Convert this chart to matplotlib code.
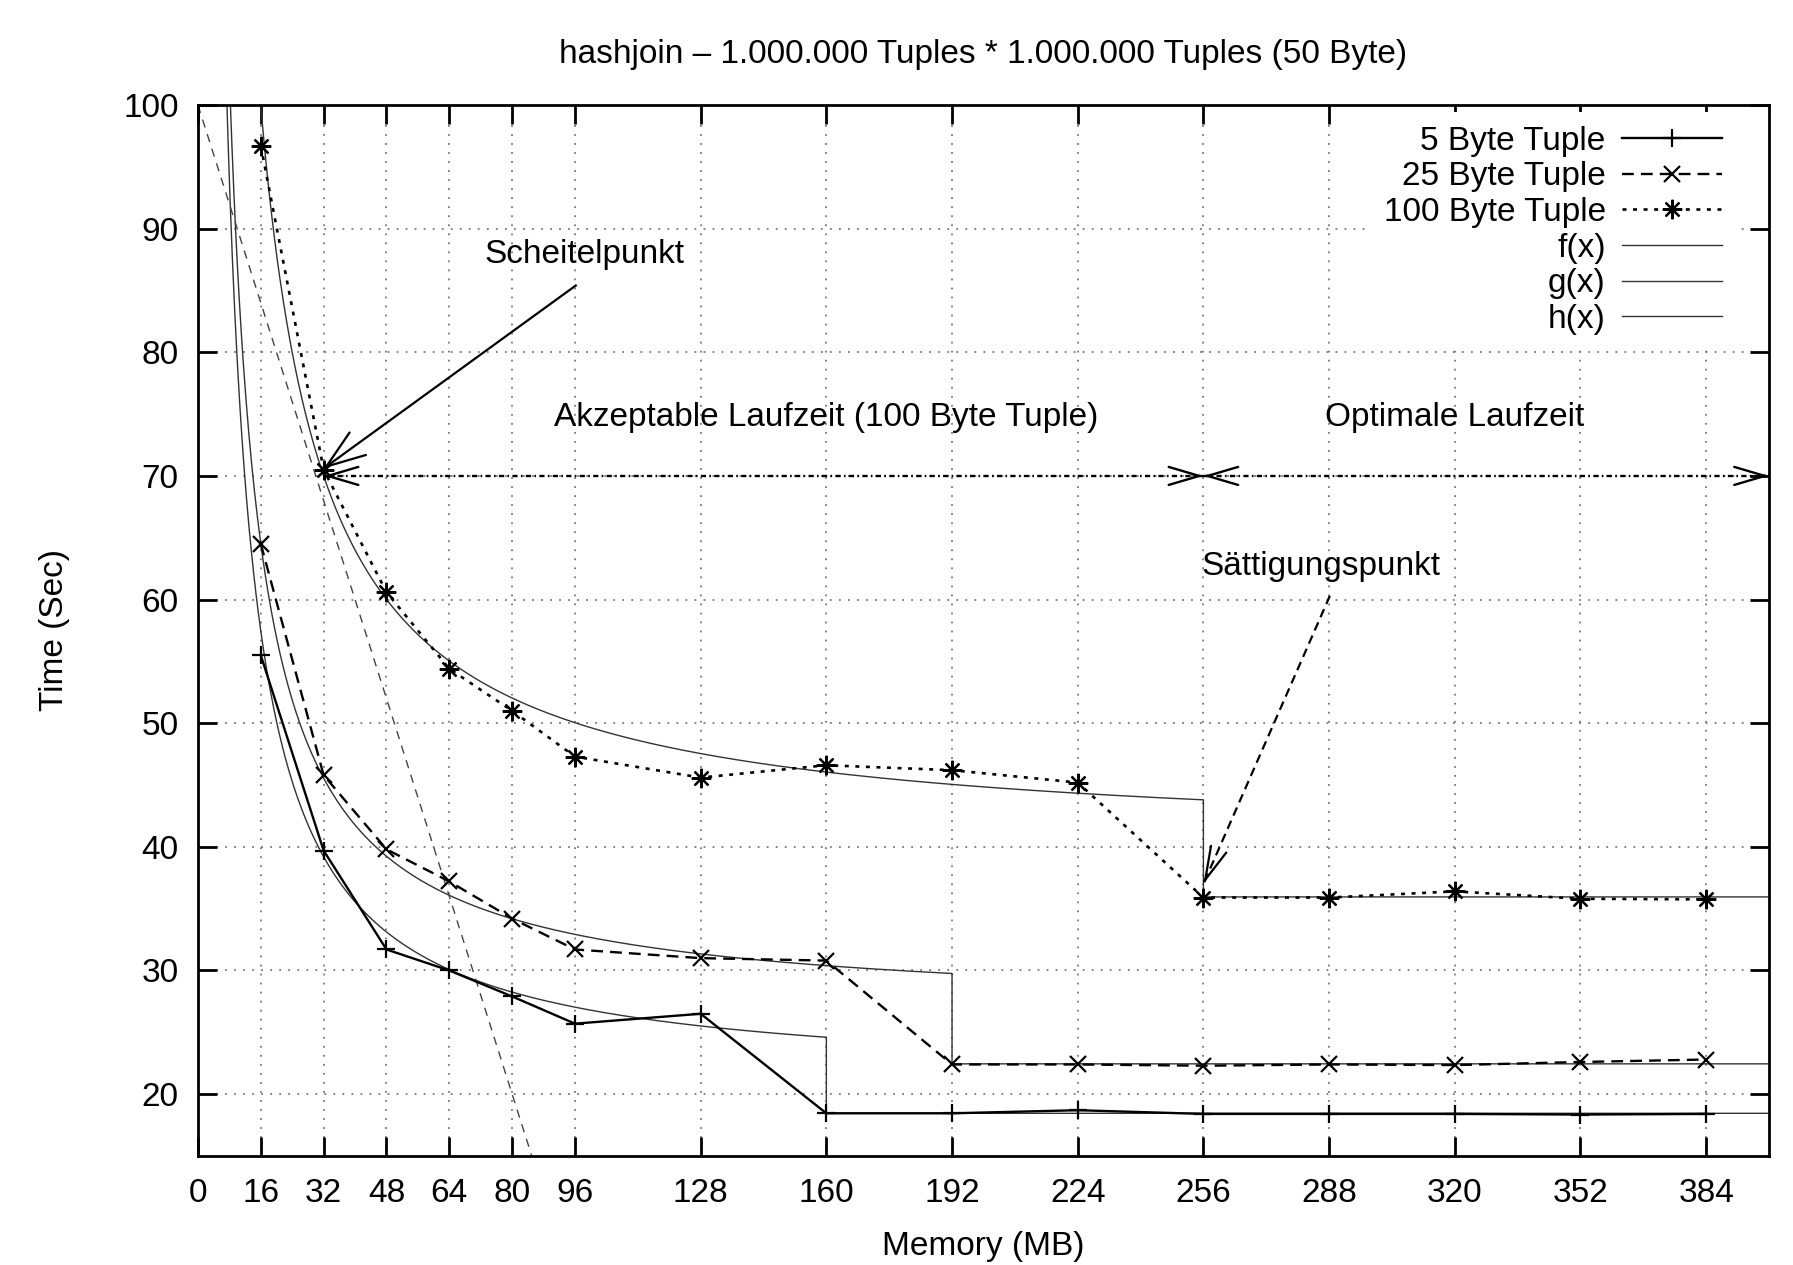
import numpy as np
import matplotlib.pyplot as plt

plt.rcParams['font.family'] = ['Liberation Sans', 'DejaVu Sans']

# measured runtimes (sec) per memory size (MB)
memory = [16, 32, 48, 64, 80, 96, 128, 160, 192, 224, 256, 288, 320, 352, 384]
time_5 = [55.5, 39.7, 31.7, 30.0, 27.9, 25.7, 26.5, 18.45, 18.45, 18.7, 18.4, 18.4, 18.4, 18.35, 18.4]
time_25 = [64.5, 45.8, 39.8, 37.2, 34.2, 31.7, 31.0, 30.8, 22.4, 22.4, 22.3, 22.4, 22.35, 22.6, 22.8]
time_100 = [96.7, 70.5, 60.6, 54.4, 51.0, 47.3, 45.6, 46.6, 46.2, 45.2, 35.9, 35.9, 36.4, 35.8, 35.75]

# fitted functions: a + b/x below the cut, constant above it
fit_names = ['f(x)', 'g(x)', 'h(x)']
fit_a = [40.06, 26.6, 20.95]
fit_b = [958.0, 606.7, 584.0]
fit_cut = [256, 192, 160]
fit_const = [35.95, 22.45, 18.45]

# straight helper line y = lin_a + lin_b * x
lin_a, lin_b = 100.0, -1.0

xticks = [0, 16, 32, 48, 64, 80, 96, 128, 160, 192, 224, 256, 288, 320, 352, 384]
yticks = [20, 30, 40, 50, 60, 70, 80, 90, 100]

fig = plt.figure(figsize=(17.93, 12.65), dpi=100)
ax = fig.add_axes([0.1104, 0.0862, 0.8762, 0.8308])

FS = 24
ax.set_xlim(0, 400)
ax.set_ylim(15, 100)
ax.set_xticks(xticks)
ax.set_yticks(yticks)
ax.tick_params(direction='in', length=14, width=2, top=True, right=True,
               labelsize=FS)
ax.tick_params(axis='x', pad=16)
ax.tick_params(axis='y', pad=14)
for s in ax.spines.values():
    s.set_linewidth(2)
ax.grid(True, linestyle=(0, (1, 4)), color='#777777', linewidth=1.3)
ax.set_axisbelow(True)

# fitted curves
fit_handles = []
for name, a, b, cut, c in zip(fit_names, fit_a, fit_b, fit_cut, fit_const):
    xs = np.linspace(1, cut, 800)
    xs_all = np.concatenate([xs, [cut, 400]])
    ys_all = np.concatenate([a + b / xs, [c, c]])
    h, = ax.plot(xs_all, ys_all, color='#333333', lw=1.0, label=name)
    fit_handles.append(h)

xl = np.array([0, 100])
ax.plot(xl, lin_a + lin_b * xl, color='#444444', lw=1.0, linestyle=(0, (6, 5)))

h5, = ax.plot(memory, time_5, color='black', lw=1.7, marker='+', ms=13, mew=1.6,
              label='5 Byte Tuple')
h25, = ax.plot(memory, time_25, color='black', lw=1.7, linestyle=(0, (5, 3)),
               marker='x', ms=11, mew=1.6, label='25 Byte Tuple')
h100, = ax.plot(memory, time_100, color='black', lw=1.9, linestyle=(0, (1.5, 2.5)),
                marker=(8, 2, 0), ms=14, mew=1.6, label='100 Byte Tuple')


def arrow(x0, y0, x1, y1, ls, lw=1.6, heads='end', hl=2.4, hw=0.75):
    """Line from (x0, y0) to (x1, y1) in style ls with solid open heads."""
    ax.plot([x0, x1], [y0, y1], color='black', lw=lw, linestyle=ls)
    style = '->,head_length=%g,head_width=%g' % (hl, hw)
    ends = [((x0, y0), (x1, y1))]
    if heads == 'both':
        ends.append(((x1, y1), (x0, y0)))
    for (sx, sy), (tx, ty) in ends:
        fx, fy = tx - (tx - sx) * 0.01, ty - (ty - sy) * 0.01
        ax.annotate('', xy=(tx, ty), xytext=(fx, fy),
                    arrowprops=dict(arrowstyle=style, lw=lw, color='black',
                                    shrinkA=0, shrinkB=0, mutation_scale=10))


# annotations
arrow(96.2, 85.4, 32, 70.6, '-', lw=1.6, hl=2.8, hw=1.0)
ax.text(72.9, 87.2, 'Scheitelpunkt', fontsize=FS, va='baseline')

dashdot = (0, (2.2, 1.4, 0.7, 1.4))
arrow(32, 70, 256, 70, dashdot, lw=1.7, heads='both', hl=2.2, hw=0.65)
arrow(256, 70, 400, 70, dashdot, lw=1.7, heads='both', hl=2.2, hw=0.65)
ax.text(160, 74.0, 'Akzeptable Laufzeit (100 Byte Tuple)', fontsize=FS,
        ha='center', va='baseline')
ax.text(320, 74.0, 'Optimale Laufzeit', fontsize=FS, ha='center', va='baseline')

arrow(288.2, 60.3, 256, 37.0, (0, (4, 2.5)), lw=1.6, hl=2.4, hw=0.6)
ax.text(255.6, 62.0, 'Sättigungspunkt', fontsize=FS, va='baseline')

ax.set_title('hashjoin – 1.000.000 Tuples * 1.000.000 Tuples (50 Byte)',
             fontsize=FS, pad=30)
ax.set_xlabel('Memory (MB)', fontsize=FS, labelpad=16)
ax.set_ylabel('Time (Sec)', fontsize=FS, labelpad=38)

leg = ax.legend(handles=[h5, h25, h100] + fit_handles, loc='upper right',
                bbox_to_anchor=(0.9873, 1.0058),
                markerfirst=False, fontsize=FS, handlelength=3.0,
                labelspacing=0.14, handletextpad=0.5, borderaxespad=0.4,
                frameon=True, fancybox=False, framealpha=1.0,
                facecolor='white', edgecolor='none')
for col in leg._legend_handle_box.get_children():
    col.align = 'right'

fig.savefig('out.png', dpi=100)
